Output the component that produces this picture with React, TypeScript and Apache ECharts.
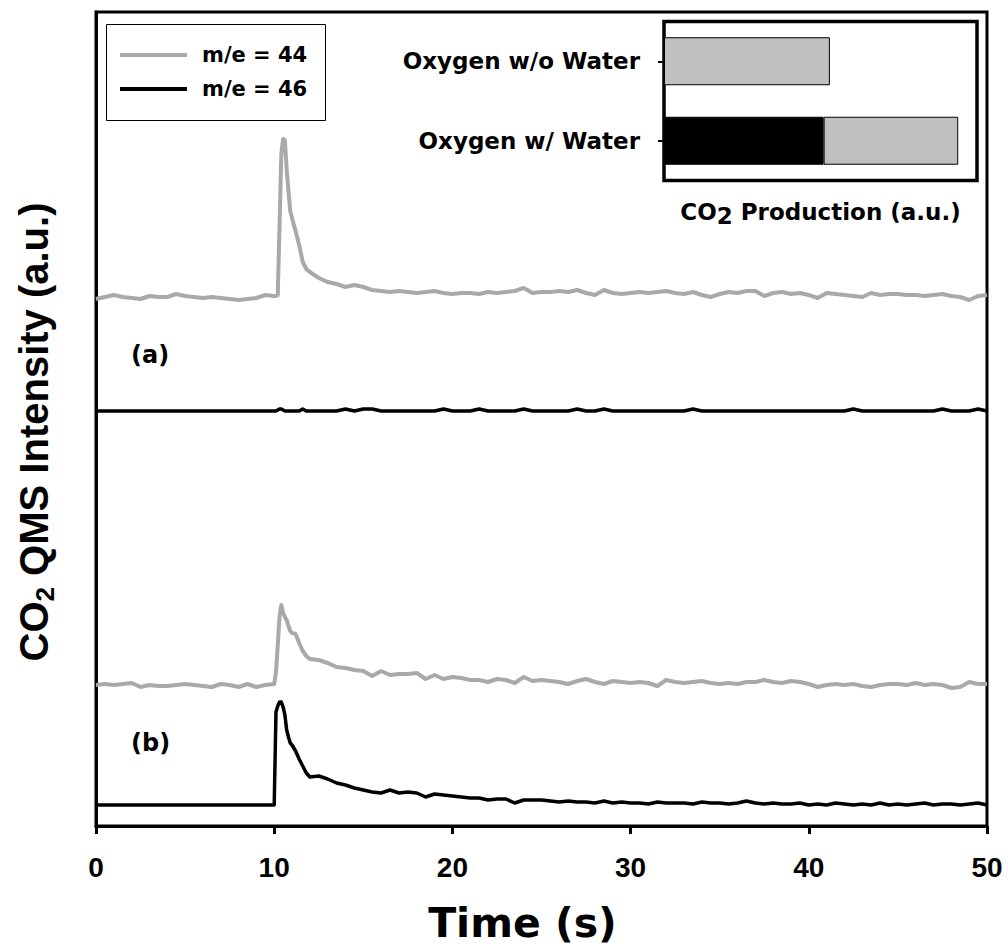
import React, { useEffect, useRef } from 'react';
import * as echarts from 'echarts';

// Time points (s)
const TIME = [
  0, 0.5, 1, 1.5, 2, 2.5, 3, 3.5, 4, 4.5, 5, 5.5, 6, 6.5, 7, 7.5, 8, 8.5, 9, 9.5, 10,
  10.1, 10.2, 10.3, 10.4, 10.5, 10.6, 10.7, 10.8, 10.9, 11, 11.2, 11.4, 11.6, 11.8, 12,
  12.5, 13, 13.5, 14, 14.5, 15, 15.5, 16, 16.5, 17, 17.5, 18, 18.5, 19, 19.5, 20, 20.5, 21, 21.5, 22, 22.5, 23, 23.5, 24, 24.5, 25,
  25.5, 26, 26.5, 27, 27.5, 28, 28.5, 29, 29.5, 30,
  30.5, 31, 31.5, 32, 32.5, 33, 33.5, 34, 34.5, 35,
  35.5, 36, 36.5, 37, 37.5, 38, 38.5, 39, 39.5, 40,
  40.5, 41, 41.5, 42, 42.5, 43, 43.5, 44, 44.5, 45,
  45.5, 46, 46.5, 47, 47.5, 48, 48.5, 49, 49.5, 50,
];

// (a) oxygen w/o water, m/e = 44 (offset trace, a.u.)
const A44 = [
  527, 529, 531, 529, 528, 527, 530, 529, 529, 532, 530, 529, 528, 529, 528, 527, 526, 527, 528, 531, 530,
  530, 531, 600, 672, 687, 686, 656, 635, 615, 608, 595, 581, 564, 557, 554,
  548, 544, 542, 539, 541, 539, 536, 535, 534, 535, 534, 533, 534, 535, 533, 532, 533, 533, 532, 534, 533, 534, 535, 538, 533, 534,
  534, 535, 534, 536, 533, 531, 536, 533, 532, 533,
  534, 533, 534, 535, 533, 532, 534, 531, 529, 532,
  534, 533, 535, 535, 530, 533, 534, 532, 533, 531,
  528, 533, 532, 531, 530, 529, 533, 531, 532, 532,
  531, 531, 530, 531, 532, 530, 529, 526, 530, 531,
];

// (a) oxygen w/o water, m/e = 46
const A46 = [
  415, 415, 415, 415, 415, 415, 415, 415, 415, 415, 415, 415, 415, 415, 415, 415, 415, 415, 415, 415, 415,
  415, 416, 417, 417, 416, 415, 415, 415, 415, 415, 415, 415, 417, 415, 415,
  415, 415, 415, 417, 415, 417, 417, 415, 415, 415, 415, 415, 415, 415, 417, 415, 415, 415, 417, 415, 415, 415, 415, 417, 415, 415,
  415, 415, 415, 417, 415, 415, 417, 415, 415, 415,
  415, 415, 415, 415, 415, 415, 417, 415, 415, 415,
  415, 415, 415, 415, 415, 415, 415, 415, 415, 415,
  415, 415, 415, 415, 417, 415, 415, 415, 415, 415,
  415, 415, 415, 415, 417, 415, 415, 415, 417, 415,
];

// (b) oxygen w/ water, m/e = 44
const B44 = [
  141, 142, 141, 142, 143, 139, 141, 140, 140, 141, 142, 141, 140, 139, 142, 141, 139, 142, 139, 141, 142,
  154, 181, 210, 221, 213, 209, 206, 200, 195, 193, 192, 183, 175, 170, 167,
  166, 163, 159, 158, 156, 155, 150, 155, 151, 152, 152, 153, 147, 151, 147, 149, 148, 146, 146, 144, 147, 146, 143, 149, 145, 146,
  145, 144, 142, 145, 147, 144, 142, 145, 144, 143,
  144, 143, 140, 146, 144, 143, 144, 145, 143, 142,
  143, 142, 144, 144, 146, 144, 143, 145, 144, 142,
  139, 141, 142, 141, 142, 140, 139, 141, 142, 142,
  141, 143, 141, 142, 141, 138, 139, 144, 142, 142,
];

// (b) oxygen w/ water, m/e = 46
const B46 = [
  21, 21, 21, 21, 21, 21, 21, 21, 21, 21, 21, 21, 21, 21, 21, 21, 21, 21, 21, 21, 21,
  114, 120, 124, 124, 119, 111, 96, 89, 83, 81, 75, 67, 60, 53, 49,
  50, 47, 43, 41, 38, 36, 34, 33, 36, 33, 34, 33, 29, 32, 31, 30, 29, 28, 28, 26, 27, 27, 23, 26, 26, 26,
  25, 24, 25, 24, 24, 23, 25, 23, 24, 23,
  23, 22, 24, 23, 23, 23, 22, 24, 23, 23,
  22, 23, 25, 23, 22, 23, 22, 22, 23, 21,
  22, 21, 23, 22, 21, 22, 21, 23, 21, 22,
  21, 22, 23, 21, 22, 22, 21, 22, 23, 21,
];

// Inset: CO2 production
const INSET_CATEGORIES = ['Oxygen w/ Water', 'Oxygen w/o Water'];
const INSET_M46 = [5.1, 0];
const INSET_M44 = [4.3, 5.3];

const X_MIN = 0;
const X_MAX = 50;
const X_STEP = 10;
const Y_MAX = 814;
const INSET_MAX = 10;

const SERIES_44 = 'm/e = 44';
const SERIES_46 = 'm/e = 46';

const FONT = '"Liberation Sans", Arial, Helvetica, sans-serif';
const WIDE = '"DejaVu Sans", Verdana, sans-serif';
const GRAY = '#a9a9a9';
const BAR_GRAY = '#c0c0c0';

const zip = (vals: number[]) => TIME.map((t, i) => [t, vals[i]]);

export default function App() {
  const ref = useRef<HTMLDivElement>(null);

  useEffect(() => {
    if (!ref.current) return;
    const chart = echarts.init(ref.current, undefined, { renderer: 'svg' });

    const lineSeries = (name: string, color: string, vals: number[], width: number) => ({
      type: 'line',
      name,
      xAxisIndex: 0,
      yAxisIndex: 0,
      data: zip(vals),
      showSymbol: false,
      symbol: 'none',
      lineStyle: { color, width, join: 'round' },
      itemStyle: { color },
      z: 3,
    });

    chart.setOption({
      animation: false,
      textStyle: { fontFamily: FONT },
      grid: [
        {
          left: 96, top: 12, right: 21, bottom: 125,
          show: true, borderColor: '#000', borderWidth: 3, backgroundColor: 'transparent',
        },
        {
          left: 664, top: 21.5, width: 313, height: 159,
          show: true, borderColor: '#000', borderWidth: 3.5, backgroundColor: '#fff', z: 10,
        },
      ],
      legend: {
        data: [
          { name: SERIES_44, icon: 'rect' },
          { name: SERIES_46, icon: 'rect' },
        ],
        orient: 'vertical',
        left: 120,
        top: 43,
        padding: 0,
        itemWidth: 67,
        itemHeight: 4,
        itemGap: 10,
        selectedMode: false,
        textStyle: {
          fontFamily: WIDE, fontWeight: 'bold', fontSize: 21, color: '#000',
          lineHeight: 24, padding: [0, 0, 0, 10],
        },
      },
      xAxis: [
        {
          type: 'value', gridIndex: 0, min: X_MIN, max: X_MAX, interval: X_STEP,
          name: 'Time (s)', nameLocation: 'middle', nameGap: 76,
          nameTextStyle: {
            fontFamily: WIDE, fontWeight: 'bold', fontSize: 41, color: '#000',
            padding: [0, 38, 0, 0],
          },
          axisLine: { show: true, lineStyle: { color: '#000', width: 3 } },
          axisTick: { show: true, length: 8, lineStyle: { color: '#000', width: 3 } },
          axisLabel: { fontFamily: FONT, fontWeight: 'bold', fontSize: 28, color: '#000', margin: 27 },
          splitLine: { show: false },
        },
        {
          type: 'value', gridIndex: 1, min: 0, max: INSET_MAX,
          name: 'CO{sub|2} Production (a.u.)', nameLocation: 'middle', nameGap: 16,
          nameTextStyle: {
            fontFamily: WIDE, fontWeight: 'bold', fontSize: 23, color: '#000',
            rich: { sub: { fontFamily: WIDE, fontWeight: 'bold', fontSize: 23, color: '#000', padding: [8, 0, 0, 0] } },
          },
          axisLine: { show: false },
          axisTick: { show: false },
          axisLabel: { show: false },
          splitLine: { show: false },
        },
      ],
      yAxis: [
        {
          type: 'value', gridIndex: 0, min: 0, max: Y_MAX,
          name: 'CO{sub|2} QMS Intensity (a.u.)', nameLocation: 'middle', nameGap: 38,
          nameTextStyle: {
            fontFamily: FONT, fontWeight: 'bold', fontSize: 40, color: '#000',
            padding: [0, 26, 0, 0],
            rich: { sub: { fontFamily: FONT, fontWeight: 'bold', fontSize: 26, color: '#000', padding: [22, 0, 0, 0] } },
          },
          axisLine: { show: true, lineStyle: { color: '#000', width: 3 } },
          axisTick: { show: false },
          axisLabel: { show: false },
          splitLine: { show: false },
        },
        {
          type: 'category', gridIndex: 1, data: INSET_CATEGORIES,
          axisLine: { show: false },
          axisTick: { show: true, alignWithLabel: true, length: 6, lineStyle: { color: '#000', width: 2 } },
          axisLabel: { fontFamily: WIDE, fontWeight: 'bold', fontSize: 23, color: '#000', margin: 24 },
          splitLine: { show: false },
        },
      ],
      series: [
        lineSeries(SERIES_44, GRAY, A44, 4),
        lineSeries(SERIES_46, '#000', A46, 3.5),
        lineSeries(SERIES_44, GRAY, B44, 4),
        lineSeries(SERIES_46, '#000', B46, 3.5),
        {
          type: 'bar', name: 'inset46', xAxisIndex: 1, yAxisIndex: 1, stack: 'co2',
          data: INSET_M46, barWidth: 48,
          itemStyle: { color: '#000', borderColor: '#000', borderWidth: 1 },
          z: 11,
        },
        {
          type: 'bar', name: 'inset44', xAxisIndex: 1, yAxisIndex: 1, stack: 'co2',
          data: INSET_M44, barWidth: 48,
          itemStyle: { color: BAR_GRAY, borderColor: '#000', borderWidth: 1 },
          z: 11,
        },
      ],
      graphic: [
        {
          type: 'rect', z: 20,
          shape: { x: 106.5, y: 24.5, width: 219, height: 96 },
          style: { fill: 'none', stroke: '#000', lineWidth: 1 },
        },
        {
          type: 'text', left: 131, top: 343, z: 20,
          style: { text: '(a)', fontFamily: WIDE, fontWeight: 'bold', fontSize: 24, fill: '#000' },
        },
        {
          type: 'text', left: 131, top: 731, z: 20,
          style: { text: '(b)', fontFamily: WIDE, fontWeight: 'bold', fontSize: 24, fill: '#000' },
        },
      ],
    });

    return () => chart.dispose();
  }, []);

  return (
    <div
      ref={ref}
      style={{ position: 'absolute', left: 0, top: 0, width: 1008, height: 951, background: '#fff' }}
    />
  );
}
